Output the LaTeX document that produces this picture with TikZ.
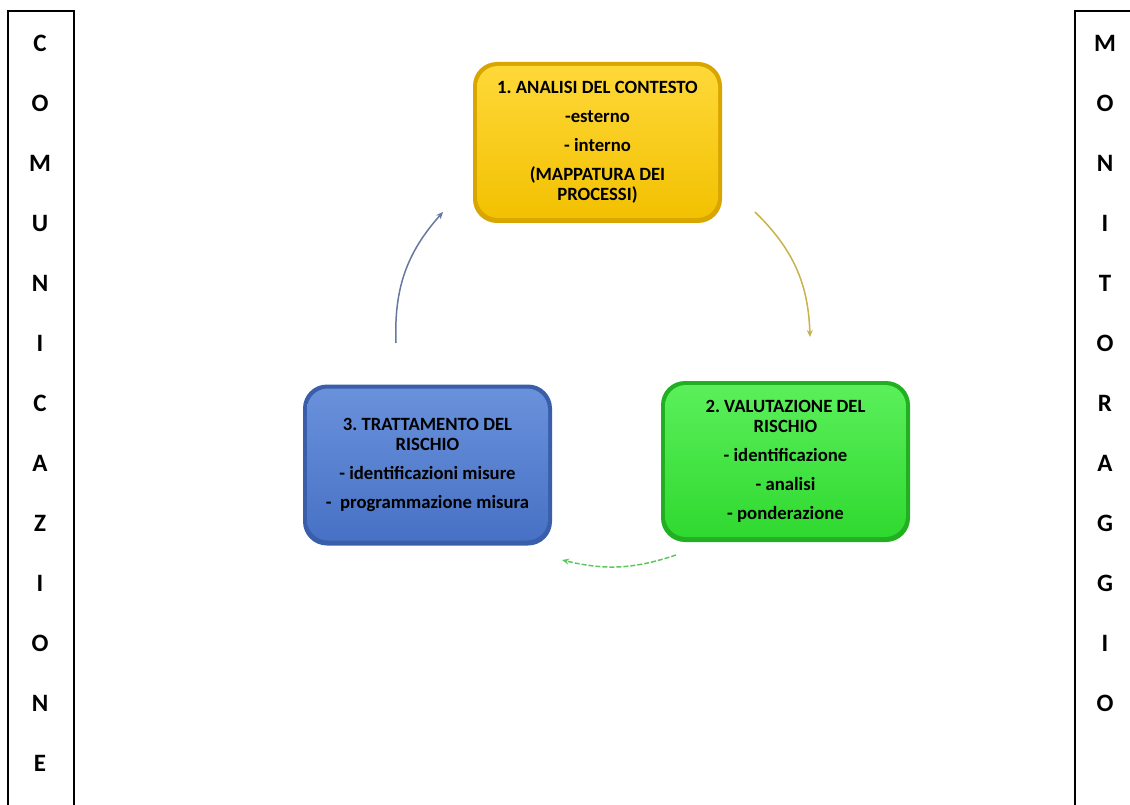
\documentclass[tikz,border=0pt]{standalone}
\usepackage{fontspec}
\setmainfont{Carlito}
\frenchspacing
\usetikzlibrary{arrows.meta}
\definecolor{yelDark}{HTML}{D9A600}
\definecolor{yelTop}{HTML}{FFD93A}
\definecolor{yelBot}{HTML}{F2C000}
\definecolor{grnDark}{HTML}{22B022}
\definecolor{grnTop}{HTML}{5CF05C}
\definecolor{grnBot}{HTML}{2ED82E}
\definecolor{bluDark}{HTML}{3A5EAA}
\definecolor{bluTop}{HTML}{6A92DC}
\definecolor{bluBot}{HTML}{4670C4}
\definecolor{arrY}{HTML}{C8B24A}
\definecolor{arrG}{HTML}{5CC85C}
\definecolor{arrB}{HTML}{6878A0}
\begin{document}
\begin{tikzpicture}[x=1pt,y=-1pt,
  sidebox/.style={draw=black, line width=1.5pt},
  sideletter/.style={font=\fontsize{25}{28}\selectfont\bfseries, anchor=center, inner sep=0pt},
  stepbox/.style n args={3}{rounded corners=24pt, fill=#1, minimum width=249pt, minimum height=161pt, inner sep=0pt,
    path picture={\fill[rounded corners=21pt, top color=#2, bottom color=#3]
      ([shift={(4,4)}]path picture bounding box.north west) rectangle ([shift={(-4,-5)}]path picture bounding box.south east);}},
  boxtext/.style={font=\fontsize{18.7}{20.5}\selectfont\bfseries, align=center, inner sep=0pt},
  cyc/.style={line width=1.5pt, -{Stealth[length=7pt,width=6pt]}}]
\useasboundingbox (0,0) rectangle (1130,805);
% side boxes
\draw[sidebox] (8,808) -- (8,11) -- (74,11) -- (74,808);
\draw[sidebox] (1075,808) -- (1075,11) -- (1133,11);
\foreach \l [count=\i from 0] in {C,O,M,U,N,I,C,A,Z,I,O,N,E}
  \node[sideletter] (L\i) at (40,43+60*\i) {\l};
\foreach \l [count=\i from 0] in {M,O,N,I,T,O,R,A,G,G,I,O}
  \node[sideletter] (R\i) at (1105,43+60*\i) {\l};
% boxes
\node[stepbox={yelDark}{yelTop}{yelBot}] (b1) at (597.5,142.5) {};
\node[stepbox={grnDark}{grnTop}{grnBot}] (b2) at (785.5,461.5) {};
\node[stepbox={bluDark}{bluTop}{bluBot}] (b3) at (427.5,465) {};
\node[boxtext] (t1) at (b1.center) {1. ANALISI DEL CONTESTO\\[8.5pt]-esterno\\[8.5pt]- interno\\[8.5pt](MAPPATURA DEI\\PROCESSI)};
\node[boxtext] (t2) at (b2.center) {2. VALUTAZIONE DEL\\RISCHIO\\[8.5pt]- identificazione\\[8.5pt]- analisi\\[8.5pt]- ponderazione};
\node[boxtext] (t3) at (b3.center) {3. TRATTAMENTO DEL\\RISCHIO\\[8.5pt]- identificazioni misure\\[8.5pt]-\ \ programmazione misura};
% arrows
\coordinate (a1s) at (755,212);
\coordinate (a1e) at (810,337);
\coordinate (a2s) at (676,555);
\coordinate (a2e) at (562,560);
\coordinate (a3s) at (396,343);
\coordinate (a3e) at (443,212);
\draw[cyc, arrY] (a1s) to[bend left=22] (a1e);
\draw[cyc, arrG, dash pattern=on 5pt off 2pt] (a2s) to[bend left=16] (a2e);
\draw[cyc, arrB] (a3s) to[bend left=22] (a3e);
\end{tikzpicture}
\end{document}
